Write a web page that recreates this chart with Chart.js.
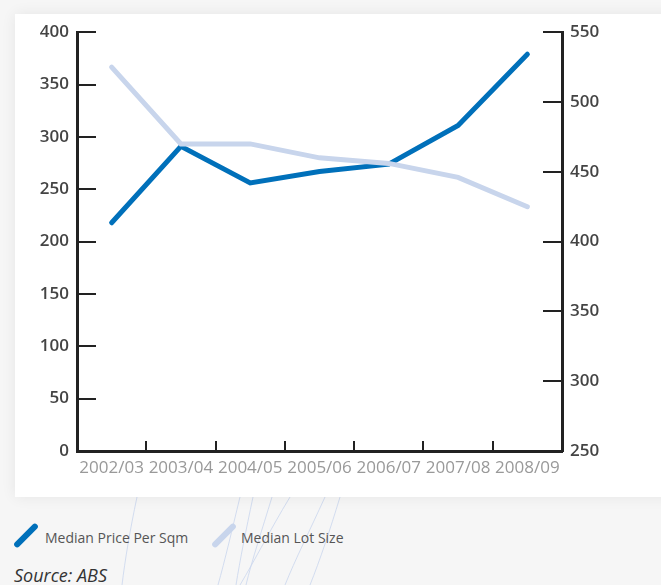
<!DOCTYPE html>
<html>
<head>
<meta charset="utf-8">
<script src="https://cdn.jsdelivr.net/npm/chart.js@4/dist/chart.umd.min.js"></script>
<style>
html,body{margin:0;padding:0;}
body{width:661px;height:585px;background:#f6f6f6;position:relative;overflow:hidden;font-family:"Open Sans",sans-serif;}
#deco{position:absolute;left:0;top:0;}
#card{position:absolute;left:15px;top:14px;width:680px;height:483px;background:#fff;box-shadow:0 0 14px rgba(0,0,0,0.07);}
#c{position:absolute;left:15px;top:14px;}
.leg{position:absolute;top:528px;font-size:14px;color:#555;}
.icon{position:absolute;width:6px;height:31px;border-radius:3px;transform:rotate(45deg);}
#src{position:absolute;left:14px;top:563px;font-size:18px;font-style:italic;color:#333;}
</style>
</head>
<body>
<svg id="deco" width="661" height="585">
<g fill="none" stroke="#c9d6ee" stroke-width="0.8">
<path d="M137 497 C130 530 125 560 122 585"/>
<path d="M240 497 C232 530 225 560 218 585"/>
<path d="M253 497 C246 530 240 560 236 585"/>
<path d="M272 497 C262 530 252 560 246 585"/>
<path d="M290 497 C270 530 255 560 240 585"/>
<path d="M325 497 C310 530 295 560 285 585"/>
<path d="M340 497 C330 530 320 560 310 585"/>
</g>
</svg>
<div id="card"></div>
<canvas id="c" width="646" height="483"></canvas>
<div class="icon" style="left:23px;top:520px;background:#0070ba;"></div>
<div class="leg" style="left:45px;">Median Price Per Sqm</div>
<div class="icon" style="left:221px;top:520px;background:#c8d5ec;"></div>
<div class="leg" style="left:241px;">Median Lot Size</div>
<div id="src">Source: ABS</div>
<script>
const categories = ["2002/03","2003/04","2004/05","2005/06","2006/07","2007/08","2008/09"];
const priceSqm = [218, 291, 256, 267, 274, 311, 379];
const lotSize = [525, 470, 470, 460, 456, 446, 425];

const tickMarks = {
  id:'tickMarks',
  beforeDatasetsDraw(chart){
    const ctx = chart.ctx;
    const yl = chart.scales.y, yr = chart.scales.y2, x = chart.scales.x;
    ctx.save();
    ctx.strokeStyle = '#222';
    ctx.lineWidth = 2;
    ctx.beginPath();
    yl.ticks.forEach(t=>{const p=Math.round(yl.getPixelForValue(t.value));ctx.moveTo(yl.right,p);ctx.lineTo(yl.right+19,p);});
    yr.ticks.forEach(t=>{const p=Math.round(yr.getPixelForValue(t.value));ctx.moveTo(yr.left-19,p);ctx.lineTo(yr.left,p);});
    for(let i=0;i<categories.length-1;i++){
      const p=Math.round((x.getPixelForTick(i)+x.getPixelForTick(i+1))/2);
      ctx.moveTo(p,x.top);ctx.lineTo(p,x.top-10);
    }
    ctx.stroke();
    ctx.restore();
  }
};

new Chart(document.getElementById('c'), {
  type:'line',
  data:{
    labels:categories,
    datasets:[
      {label:'Median Price Per Sqm', data:priceSqm, yAxisID:'y', borderColor:'#0070ba', borderWidth:5, pointRadius:0, tension:0, borderCapStyle:'round', order:1},
      {label:'Median Lot Size', data:lotSize, yAxisID:'y2', borderColor:'#c8d5ec', borderWidth:5, pointRadius:0, tension:0, borderCapStyle:'round', order:0}
    ]
  },
  options:{
    responsive:false,
    animation:false,
    devicePixelRatio:1,
    layout:{padding:{top:18,left:0,right:0,bottom:0}},
    plugins:{legend:{display:false},tooltip:{enabled:false}},
    scales:{
      x:{
        offset:true,
        grid:{display:false,drawTicks:false,offset:true},
        border:{display:true,color:'#222',width:3},
        ticks:{color:'#999',font:{family:'Open Sans',size:17},padding:7,maxRotation:0,autoSkip:false},
        afterFit(s){s.height=46;}
      },
      y:{
        position:'left',min:0,max:400,
        grid:{display:false,drawTicks:false},
        border:{display:true,color:'#222',width:3},
        ticks:{stepSize:50,color:'#444',font:{family:'Open Sans',size:17,weight:'600'},padding:8},
        afterFit(s){s.width=62;}
      },
      y2:{
        position:'right',min:250,max:550,
        grid:{display:false,drawTicks:false},
        border:{display:true,color:'#222',width:3},
        ticks:{stepSize:50,color:'#444',font:{family:'Open Sans',size:17,weight:'600'},padding:8},
        afterFit(s){s.width=99;}
      }
    }
  },
  plugins:[tickMarks]
});
</script>
</body>
</html>
